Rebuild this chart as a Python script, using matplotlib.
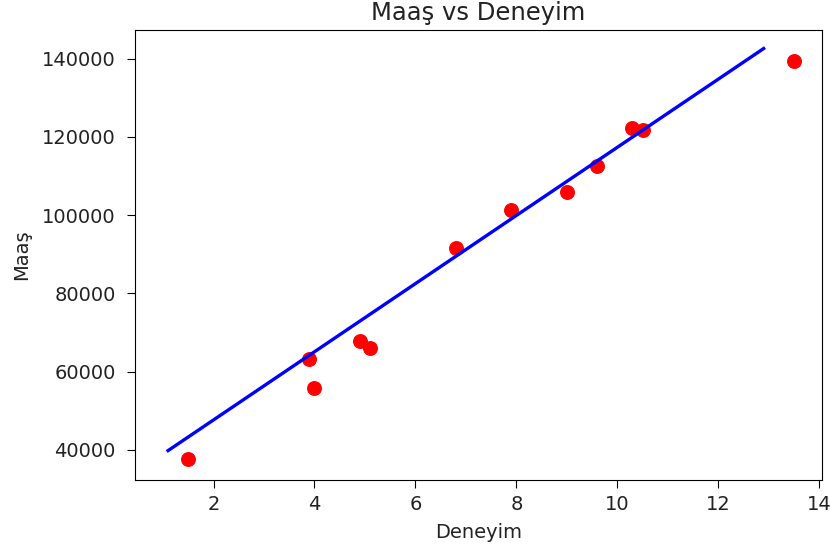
import matplotlib
matplotlib.use("Agg")
import matplotlib.pyplot as plt

# Data
deneyim = [1.5, 3.9, 4.0, 4.9, 5.1, 6.8, 7.9, 9.0, 9.6, 10.3, 10.5, 13.5]
maas = [37700, 63200, 55800, 67900, 66000, 91700, 101300, 105800, 112600, 122400, 121800, 139400]

# Regression line endpoints
line_x = [1.1, 12.9]
line_y = [39800, 142600]

fig = plt.figure(figsize=(8.3, 5.51), dpi=100)
ax = fig.add_axes([0.163, 0.129, 0.827, 0.817])

ax.scatter(deneyim, maas, color="red", s=95, zorder=2)
ax.plot(line_x, line_y, color="blue", linewidth=2.4, zorder=3)

ax.set_title("Maaş vs Deneyim", fontsize=17.5, pad=7, color="#222222")
ax.set_xlabel("Deneyim", fontsize=14, color="#222222", labelpad=6)
ax.set_ylabel("Maaş", fontsize=14, color="#222222", labelpad=8)
ax.tick_params(axis="y", labelsize=14, length=6, pad=8, labelcolor="#222222")
ax.tick_params(axis="x", labelsize=14, length=6, pad=5, labelcolor="#222222")
ax.set_xticks([2, 4, 6, 8, 10, 12, 14])
ax.set_yticks([40000, 60000, 80000, 100000, 120000, 140000])
ax.set_xlim(0.45, 14.05)
ax.set_ylim(32300, 147400)

fig.savefig("out.png", dpi=100)
